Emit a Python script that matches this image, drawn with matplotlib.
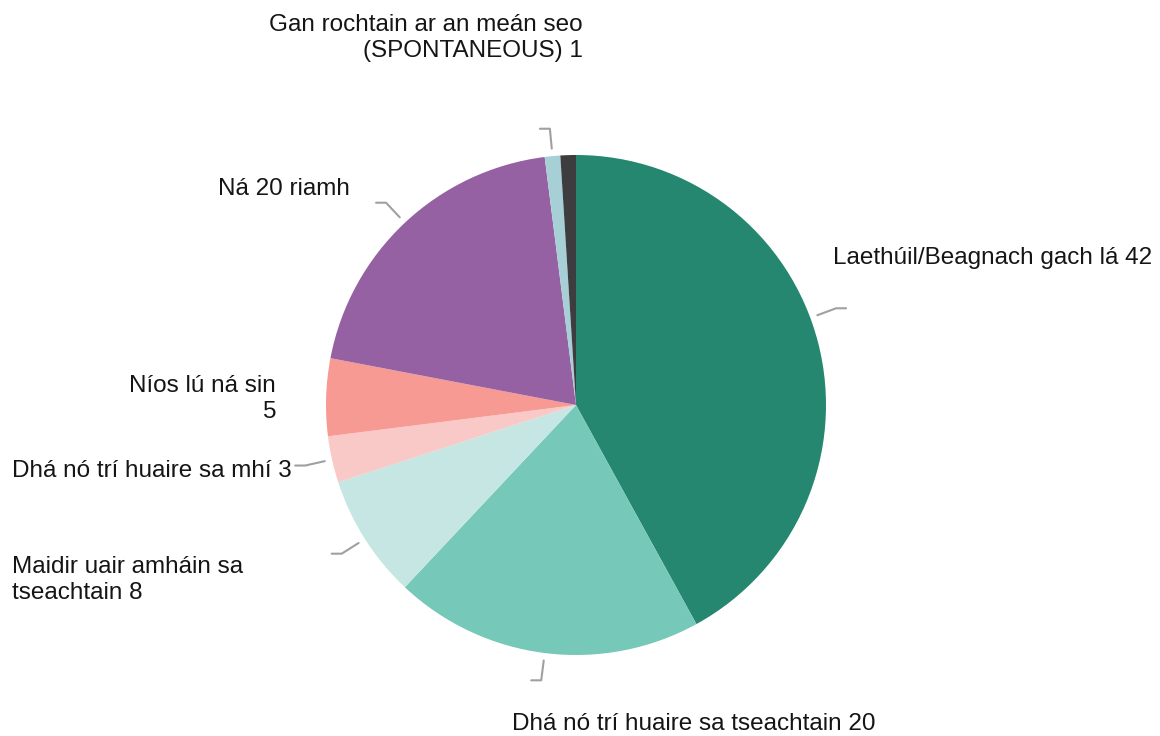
import numpy as np
import matplotlib.pyplot as plt

# -- Data ----------------------------------------------------------------
labels = ["Laethúil/Beagnach gach lá 42",
          "Dhá nó trí huaire sa tseachtain 20",
          "Maidir uair amháin sa\ntseachtain 8",
          "Dhá nó trí huaire sa mhí 3",
          "Níos lú ná sin\n5",
          "Ná 20 riamh",
          "Gan rochtain ar an meán seo\n(SPONTANEOUS) 1",
          ""]
values = [42, 20, 8, 3, 5, 20, 1, 1]
colors = ["#25876f", "#76c8b9", "#c5e6e2", "#f9c9c8", "#f79a94",
          "#9561a3", "#a7cfd6", "#3d3d40"]

# label placement (pixel coords, y from top), alignment
label_pos = [(833, 258, "left"), (512, 724, "left"), (12, 580, "left"),
             (12, 471, "left"), (276, 399, "right"), (218, 189, "left"),
             (583, 38, "right"), None]
leader = [True, True, True, True, False, True, True, False]
leader_shift = [6, 0, 0, 0, 0, 0, 0, 0]  # degrees

W, H = 1160, 736
cx, cy, R = 576, H - 405, 250

plt.rcParams['font.family'] = ['Liberation Sans', 'DejaVu Sans']

fig = plt.figure(figsize=(W / 100, H / 100), dpi=100)
ax = fig.add_axes([0, 0, 1, 1])

wedges, _ = ax.pie(values, colors=colors, startangle=90, counterclock=False,
                   center=(cx, cy), radius=R, frame=True,
                   wedgeprops=dict(linewidth=0))
ax.set_xlim(0, W)
ax.set_ylim(0, H)
ax.set_aspect('equal')
ax.axis('off')

# leader lines from wedge mid angles
for w, show, sh in zip(wedges, leader, leader_shift):
    if not show:
        continue
    a = np.deg2rad((w.theta1 + w.theta2) / 2 + sh)
    x1, y1 = cx + 1.03 * R * np.cos(a), cy + 1.03 * R * np.sin(a)
    x2, y2 = cx + 1.11 * R * np.cos(a), cy + 1.11 * R * np.sin(a)
    x3 = x2 + (10 if np.cos(a) > 0 else -10)
    ax.plot([x1, x2, x3], [y1, y2, y2], color="#a0a0a0", lw=1.5,
            solid_capstyle='round')

for lab, pos in zip(labels, label_pos):
    if pos is None:
        continue
    x, y, ha = pos
    ax.text(x, H - y, lab, ha=ha, va='center', fontsize=17.5,
            multialignment=ha, linespacing=1.22, color="#151515")

fig.savefig("out.png", dpi=100)
